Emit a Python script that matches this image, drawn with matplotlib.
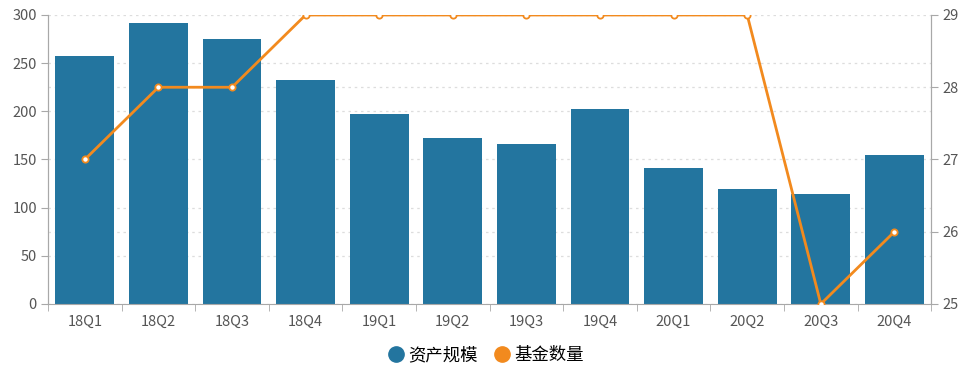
import matplotlib
matplotlib.use("Agg")
import matplotlib.pyplot as plt
from matplotlib.lines import Line2D
import numpy as np

plt.rcParams['font.family'] = ['Noto Sans CJK SC', 'DejaVu Sans']

quarters = ['18Q1', '18Q2', '18Q3', '18Q4', '19Q1', '19Q2',
            '19Q3', '19Q4', '20Q1', '20Q2', '20Q3', '20Q4']
asset_size = [257.5, 292, 275, 232.5, 197.5, 172.5, 166, 202.5, 141, 119.5, 114, 155]
fund_count = [27, 28, 28, 29, 29, 29, 29, 29, 29, 29, 25, 26]

bar_color = '#23759f'
line_color = '#f28a1e'
axis_color = '#a8a8a8'
text_color = '#555555'
grid_style = dict(color='#dddddd', linestyle=(0, (2, 3)), lw=0.9)

fig = plt.figure(figsize=(9.7, 3.71), dpi=100)
ax = fig.add_axes([0.0495, 0.1806, 0.9105, 0.779])
ax2 = ax.twinx()

x = np.arange(len(quarters))
left_lim = (0, 300)
right_lim = (25, 29)
right_ticks = [25, 26, 27, 28, 29]

# gridlines of both axes, kept behind the bars
left_ticks = list(range(0, 301, 50))
mapped = [left_lim[0] + (t - right_lim[0]) / (right_lim[1] - right_lim[0]) * (left_lim[1] - left_lim[0])
          for t in right_ticks]
for v in sorted(set(left_ticks) | set(mapped)):
    ax.axhline(v, zorder=0, **grid_style)

ax.bar(x, asset_size, width=0.8, color=bar_color, zorder=2)
ax2.plot(x, fund_count, color=line_color, lw=2, marker='o', ms=4.5,
         markerfacecolor='white', markeredgecolor=line_color, markeredgewidth=1.3, zorder=3)

ax.set_xlim(-0.5, len(quarters) - 0.5)
ax.set_ylim(*left_lim)
ax.set_yticks(left_ticks)
ax2.set_ylim(*right_lim)
ax2.set_yticks(right_ticks)

ax.set_xticks(x)
ax.set_xticklabels(quarters)
ax.set_xticks(np.arange(-0.5, len(quarters), 1), minor=True)
ax.tick_params(axis='x', which='major', length=0, pad=8, labelsize=10.5, labelcolor=text_color)
ax.tick_params(axis='x', which='minor', length=5, color=axis_color)
ax.tick_params(axis='y', length=5, color=axis_color, labelsize=10.5, labelcolor=text_color, pad=3)
ax2.tick_params(axis='y', length=5, color=axis_color, labelsize=10.5, labelcolor=text_color, pad=3)

for a in (ax, ax2):
    a.spines['top'].set_visible(False)
    for s in ['left', 'right', 'bottom']:
        a.spines[s].set_color(axis_color)
ax2.spines['bottom'].set_visible(False)

handles = [
    Line2D([], [], marker='o', linestyle='', color=bar_color, ms=11),
    Line2D([], [], marker='o', linestyle='', color=line_color, ms=11),
]
fig.legend(handles, ['资产规模', '基金数量'], loc='center', bbox_to_anchor=(0.5, 0.043),
           ncol=2, frameon=False, fontsize=12.5, handletextpad=0.1, columnspacing=0.8,
           handlelength=1.2)

fig.savefig('out.png', dpi=100)
